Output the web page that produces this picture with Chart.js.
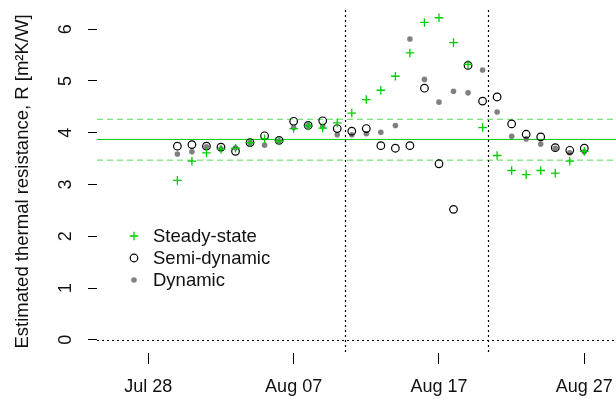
<!DOCTYPE html>
<html>
<head>
<meta charset="utf-8">
<script src="https://cdn.jsdelivr.net/npm/chart.js@4.4.1/dist/chart.umd.min.js"></script>
<style>
  html, body { margin: 0; padding: 0; background: #fff; overflow: hidden; }
  canvas { display: block; }
</style>
</head>
<body>
<canvas id="chart" width="616" height="399"></canvas>
<script>
// Daily estimates (month-day)
const dates = [
  '07-30', '07-31', '08-01', '08-02', '08-03', '08-04', '08-05', '08-06', '08-07', '08-08',
  '08-09', '08-10', '08-11', '08-12', '08-13', '08-14', '08-15', '08-16', '08-17', '08-18',
  '08-19', '08-20', '08-21', '08-22', '08-23', '08-24', '08-25', '08-26', '08-27'
];
const steadyState = [
  3.08, 3.45, 3.61, 3.68, 3.70, 3.81, 3.88, 3.84, 4.08, 4.13,
  4.09, 4.19, 4.38, 4.64, 4.82, 5.09, 5.54, 6.13, 6.22, 5.74,
  5.32, 4.10, 3.56, 3.27, 3.19, 3.27, 3.22, 3.45, 3.64
];
const semiDynamic = [
  3.74, 3.77, 3.74, 3.72, 3.64, 3.81, 3.94, 3.85, 4.22, 4.14,
  4.23, 4.08, 4.03, 4.08, 3.75, 3.70, 3.75, 4.86, 3.40, 2.52,
  5.30, 4.61, 4.69, 4.17, 3.97, 3.92, 3.71, 3.66, 3.70
];
const dynamic = [
  3.59, 3.63, 3.73, 3.69, 3.71, 3.81, 3.76, 3.84, 4.10, 4.14,
  4.12, 3.96, 3.96, 3.98, 4.01, 4.14, 5.81, 5.03, 4.59, 4.80,
  4.77, 5.21, 4.40, 3.93, 3.88, 3.78, 3.70, 3.61, 3.63
];
const seriesNames = ['Steady-state', 'Semi-dynamic', 'Dynamic'];

// Reference level of the steady-state estimate and its band
const referenceMean = 3.87;
const referenceBand = [3.47, 4.26];

// Period boundaries (month-day hour)
const periodBreaks = ['08-10 12', '08-20 09'];

// Axis ticks
const xTickDates = ['07-28', '08-07', '08-17', '08-27'];
const xTickLabels = ['Jul 28', 'Aug 07', 'Aug 17', 'Aug 27'];
const yTicks = [0, 1, 2, 3, 4, 5, 6];

// Days counted from Jul 28
function dayOf(s) {
  const [md, h] = s.split(' ');
  const [m, d] = md.split('-').map(Number);
  return (Date.UTC(2001, m - 1, d, Number(h || 0)) - Date.UTC(2001, 6, 28)) / 864e5;
}
const xDays = dates.map(dayOf);
const xTickDays = xTickDates.map(dayOf);
const breakDays = periodBreaks.map(dayOf);

const FONT = 'Liberation Sans, Arial, Helvetica, sans-serif';
const GREEN = '#00cd00';

const toPoints = vals => vals.map((v, i) => ({ x: xDays[i], y: v }));

// keep the plotting region fixed: no extra room for overflowing tick labels
const noPadding = s => { s.paddingTop = 0; s.paddingBottom = 0; s.paddingLeft = 0; s.paddingRight = 0; };

const refLines = {
  id: 'refLines',
  beforeDatasetsDraw(chart) {
    const { ctx, chartArea: a, scales: { x, y } } = chart;
    ctx.save();
    ctx.beginPath();
    ctx.rect(a.left, a.top, a.right - a.left, a.bottom - a.top);
    ctx.clip();
    ctx.lineWidth = 1;
    // green reference level and band
    ctx.strokeStyle = GREEN;
    ctx.setLineDash([]);
    let py = y.getPixelForValue(referenceMean);
    ctx.beginPath(); ctx.moveTo(a.left, py); ctx.lineTo(a.right, py); ctx.stroke();
    ctx.strokeStyle = '#55d955';
    ctx.setLineDash([6, 4]);
    referenceBand.forEach(v => {
      const p = y.getPixelForValue(v);
      ctx.beginPath(); ctx.moveTo(a.left, p); ctx.lineTo(a.right, p); ctx.stroke();
    });
    // dotted zero line and period boundaries
    ctx.strokeStyle = '#000';
    ctx.lineWidth = 1.2;
    ctx.setLineDash([2, 3]);
    py = Math.round(y.getPixelForValue(0)) + 0.5;
    ctx.beginPath(); ctx.moveTo(a.left, py); ctx.lineTo(a.right, py); ctx.stroke();
    breakDays.forEach(d => {
      const px = Math.round(x.getPixelForValue(d)) + 0.5;
      ctx.beginPath(); ctx.moveTo(px, a.top); ctx.lineTo(px, a.bottom); ctx.stroke();
    });
    ctx.restore();
  }
};

const legendBox = {
  id: 'legendBox',
  afterDraw(chart) {
    const { ctx } = chart;
    const x0 = 134, textX = 153, y0 = 236, step = 22;
    ctx.save();
    chart.data.datasets.slice().sort((a, b) => a.legendIndex - b.legendIndex).forEach((ds, i) => {
      const yy = y0 + i * step;
      ctx.fillStyle = ds.pointBackgroundColor;
      ctx.strokeStyle = ds.pointBorderColor;
      ctx.lineWidth = ds.pointBorderWidth;
      ctx.setLineDash([]);
      ctx.beginPath();
      if (ds.pointStyle === 'cross') {
        const r = ds.pointRadius;
        ctx.moveTo(x0 - r, yy); ctx.lineTo(x0 + r, yy);
        ctx.moveTo(x0, yy - r); ctx.lineTo(x0, yy + r);
        ctx.stroke();
      } else {
        ctx.arc(x0, yy, ds.pointRadius, 0, Math.PI * 2);
        if (ds.pointBackgroundColor !== 'transparent') ctx.fill();
        if (ds.pointBorderWidth > 0) ctx.stroke();
      }
      ctx.fillStyle = '#111';
      ctx.font = '18.5px ' + FONT;
      ctx.textAlign = 'left';
      ctx.textBaseline = 'middle';
      ctx.fillText(ds.label, textX, yy + 1);
    });
    ctx.restore();
  }
};

new Chart(document.getElementById('chart'), {
  type: 'scatter',
  data: {
    datasets: [
      {
        label: seriesNames[0], legendIndex: 0, order: 1,
        data: toPoints(steadyState),
        pointStyle: 'cross', pointRadius: 4.3, pointBorderWidth: 1.3,
        pointBorderColor: GREEN, pointBackgroundColor: GREEN
      },
      {
        label: seriesNames[1], legendIndex: 1, order: 2,
        data: toPoints(semiDynamic),
        pointStyle: 'circle', pointRadius: 3.8, pointBorderWidth: 1.2,
        pointBorderColor: '#000', pointBackgroundColor: 'transparent'
      },
      {
        label: seriesNames[2], legendIndex: 2, order: 3,
        data: toPoints(dynamic),
        pointStyle: 'circle', pointRadius: 2.8, pointBorderWidth: 0,
        pointBorderColor: '#808080', pointBackgroundColor: '#808080'
      }
    ]
  },
  options: {
    responsive: false,
    animation: false,
    devicePixelRatio: 1,
    layout: { autoPadding: false, padding: { top: 10, right: 0, left: 0, bottom: 0 } },
    plugins: { legend: { display: false }, tooltip: { enabled: false } },
    scales: {
      x: {
        type: 'linear',
        min: -3.53, max: 32.18,
        afterBuildTicks: s => { s.ticks = xTickDays.map(v => ({ value: v })); },
        afterFit: s => { s.height = 46; noPadding(s); },
        border: { display: false },
        grid: { drawOnChartArea: false, drawTicks: true, tickLength: 11, color: '#000', tickWidth: 1 },
        ticks: {
          color: '#111', font: { family: FONT, size: 18 }, padding: 12,
          maxRotation: 0, autoSkip: false,
          callback: v => xTickLabels[xTickDays.indexOf(v)]
        }
      },
      y: {
        min: -0.255, max: 6.37,
        afterBuildTicks: s => { s.ticks = yTicks.map(v => ({ value: v })); },
        afterFit: s => { s.width = 97; noPadding(s); },
        border: { display: false },
        grid: { drawOnChartArea: false, drawTicks: true, tickLength: 9, color: '#000', tickWidth: 1 },
        ticks: {
          color: '#111', font: { family: FONT, size: 18 }, padding: 17,
          minRotation: 90, maxRotation: 90, crossAlign: 'center',
          callback: v => String(v)
        },
        title: {
          display: true, text: 'Estimated thermal resistance, R [m²K/W]',
          color: '#111', font: { family: FONT, size: 18.5 }, padding: { top: 11.5, bottom: 0 }
        }
      }
    }
  },
  plugins: [refLines, legendBox]
});
</script>
</body>
</html>
